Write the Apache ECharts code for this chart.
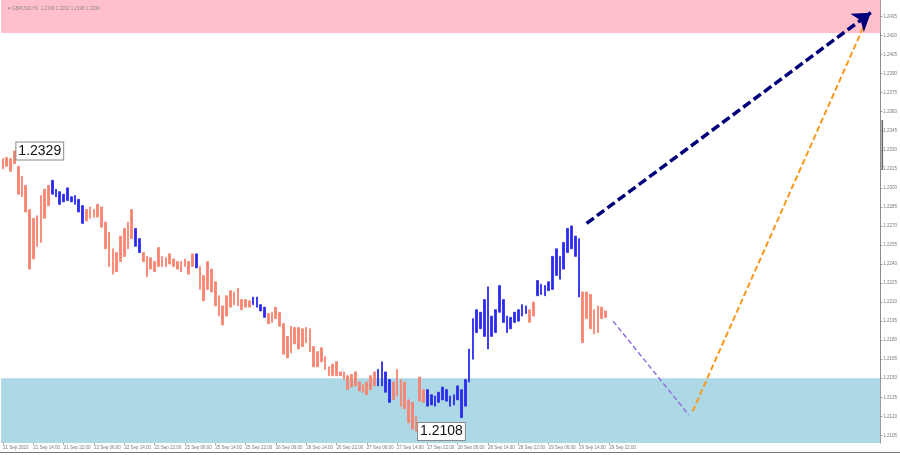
<!DOCTYPE html>
<html>
<head>
<meta charset="utf-8">
<script src="https://cdn.jsdelivr.net/npm/echarts@6/dist/echarts.min.js"></script>
<style>html,body{margin:0;padding:0;background:#fff;}#c{width:900px;height:455px;}</style>
</head>
<body>
<div id="c"></div>
<script>
// ---- data ----
const symbolTitle = '\u25BE GBPUSD,H1  1.2199 1.2202 1.2198 1.2200';
const xTickLabels = ['21 Sep 2023','21 Sep 14:00','21 Sep 22:00','22 Sep 06:00','22 Sep 14:00','22 Sep 22:00',
  '25 Sep 06:00','25 Sep 14:00','25 Sep 22:00','26 Sep 06:00','26 Sep 14:00','26 Sep 22:00',
  '27 Sep 06:00','27 Sep 14:00','27 Sep 22:00','28 Sep 06:00','28 Sep 14:00','28 Sep 22:00',
  '29 Sep 06:00','29 Sep 14:00','29 Sep 22:00'];
const hoursPerTick = 8;
const totalSlots = 232;
const yTickValues = [1.2105,1.2120,1.2135,1.2150,1.2165,1.2180,1.2195,1.2210,1.2225,1.2240,1.2255,1.2270,
  1.2285,1.2300,1.2315,1.2330,1.2345,1.2360,1.2375,1.2390,1.2405,1.2420,1.2435];

const barHigh = [
1.2323,1.2324,1.2323,1.2329,1.2317,1.2309,1.2302,1.2283,1.2276,1.2278,
1.2294,1.2299,1.2302,1.2306,1.2299,1.2297,1.2295,1.2300,1.2293,1.2294,
1.2291,1.2286,1.2283,1.2285,1.2283,1.2287,1.2285,1.2273,1.2265,1.2252,
1.2249,1.2262,1.2268,1.2273,1.2283,1.2268,1.2260,1.2249,1.2246,1.2245,
1.2242,1.2253,1.2246,1.2245,1.2248,1.2244,1.2242,1.2242,1.2244,1.2242,
1.2248,1.2248,1.2238,1.2231,1.2242,1.2236,1.2226,1.2215,1.2207,1.2215,
1.2219,1.2218,1.2221,1.2212,1.2212,1.2211,1.2214,1.2214,1.2208,1.2206,
1.2201,1.2202,1.2206,1.2202,1.2193,1.2183,1.2191,1.2190,1.2190,1.2189,
1.2190,1.2189,1.2175,1.2171,1.2174,1.2167,1.2159,1.2161,1.2163,1.2155,
1.2155,1.2152,1.2153,1.2155,1.2147,1.2145,1.2147,1.2152,1.2155,1.2157,
1.2163,1.2155,1.2149,1.2147,1.2157,1.2149,1.2147,1.2133,1.2131,1.2120,
1.2151,1.2141,1.2141,1.2137,1.2136,1.2139,1.2143,1.2141,1.2136,1.2137,
1.2144,1.2141,1.2149,1.2173,1.2197,1.2204,1.2202,1.2212,1.2222,1.2199,
1.2204,1.2223,1.2212,1.2199,1.2198,1.2202,1.2204,1.2208,1.2207,1.2204,
1.2210,1.2227,1.2224,1.2223,1.2226,1.2246,1.2252,1.2246,1.2257,1.2268,
1.2270,1.2262,1.2260,1.2218,1.2218,1.2216,1.2204,1.2207,1.2206,1.2203];
const barLow = [
1.2315,1.2317,1.2313,1.2319,1.2295,1.2293,1.2281,1.2236,1.2244,1.2254,
1.2257,1.2276,1.2286,1.2295,1.2293,1.2287,1.2289,1.2290,1.2289,1.2287,
1.2281,1.2272,1.2274,1.2276,1.2277,1.2277,1.2269,1.2252,1.2238,1.2232,
1.2234,1.2242,1.2246,1.2252,1.2260,1.2254,1.2249,1.2242,1.2230,1.2236,
1.2234,1.2238,1.2238,1.2238,1.2240,1.2238,1.2236,1.2234,1.2238,1.2232,
1.2238,1.2237,1.2220,1.2211,1.2220,1.2218,1.2207,1.2199,1.2192,1.2199,
1.2206,1.2208,1.2207,1.2204,1.2206,1.2206,1.2208,1.2206,1.2203,1.2198,
1.2193,1.2194,1.2197,1.2191,1.2169,1.2166,1.2170,1.2177,1.2173,1.2175,
1.2178,1.2171,1.2159,1.2159,1.2163,1.2157,1.2152,1.2152,1.2152,1.2152,
1.2149,1.2141,1.2143,1.2144,1.2140,1.2139,1.2137,1.2141,1.2144,1.2144,
1.2144,1.2139,1.2131,1.2133,1.2136,1.2128,1.2126,1.2115,1.2110,1.2108,
1.2132,1.2131,1.2128,1.2129,1.2128,1.2131,1.2133,1.2132,1.2128,1.2129,
1.2133,1.2119,1.2128,1.2147,1.2165,1.2186,1.2189,1.2183,1.2173,1.2183,
1.2186,1.2202,1.2194,1.2186,1.2189,1.2194,1.2195,1.2199,1.2201,1.2194,
1.2199,1.2215,1.2216,1.2215,1.2219,1.2220,1.2231,1.2228,1.2236,1.2249,
1.2252,1.2246,1.2214,1.2178,1.2197,1.2189,1.2185,1.2186,1.2197,1.2198];
// bars belonging to rising (blue) waves, as [first, last] bar index
const blueWaves = [[13,21],[35,36],[51,51],[66,69],[99,102],[112,138],[141,152]];
const lastPrice = 1.2202;
const extremeIdx = [3, 109];
const extremeVal = [1.2329, 1.2108];
const resistanceZone = [1.2422, 1.2448];
const supportZone = [1.2099, 1.2150];
const forecastUp = [[154, 1.2272], [229, 1.2438]];
const forecastDown = [[161, 1.2195], [181, 1.2121]];
const forecastRise = [[182, 1.2124], [228, 1.2433]];

// ---- build ----
const SALMON = '#F8836F', BLUE = '#2A2AEE';
const categories = [];
for (let i = 0; i < totalSlots; i++) categories.push(String(i));
function isBlue(i) { return blueWaves.some(r => i >= r[0] && i <= r[1]); }
const candleData = barHigh.map((h, i) => {
  const c = isBlue(i) ? BLUE : SALMON;
  return { value: [barLow[i], h, barLow[i], h], itemStyle: { color: c, borderColor: c, color0: c, borderColor0: c } };
});
const tickShown = idx => idx % hoursPerTick === 0 && idx / hoursPerTick < xTickLabels.length;
const extremeLabel = {
  show: true, position: 'right', distance: 2,
  fontFamily: 'Liberation Sans', fontSize: 14, color: '#111',
  backgroundColor: '#fff', borderColor: '#8a8a8a', borderWidth: 1, padding: [2, 2, 1, 2]
};

const chart = echarts.init(document.getElementById('c'), null, { renderer: 'canvas' });
chart.setOption({
  animation: false,
  backgroundColor: '#fff',
  title: { text: symbolTitle, left: 3, top: 1, textStyle: { fontSize: 4.5, color: '#8a8a8a', fontWeight: 'normal', fontFamily: 'Liberation Sans' } },
  grid: { left: 0, right: 18, top: 0, bottom: 12 },
  xAxis: {
    type: 'category', data: categories, boundaryGap: true,
    axisLine: { show: false },
    axisTick: { show: true, interval: tickShown, alignWithLabel: true, length: 2, lineStyle: { color: '#aaa' } },
    axisLabel: {
      interval: tickShown, align: 'left', margin: 2, fontSize: 4.5, color: '#7a7a7a', fontFamily: 'Liberation Sans',
      formatter: (v, idx) => xTickLabels[idx / hoursPerTick] || ''
    },
    splitLine: { show: false }
  },
  yAxis: {
    type: 'value', position: 'right', min: supportZone[0], max: resistanceZone[1], scale: true,
    axisLine: { show: true, lineStyle: { color: '#8c8c8c', width: 1 } },
    axisTick: { show: true, length: 2, customValues: yTickValues, lineStyle: { color: '#8c8c8c' } },
    axisLabel: { customValues: yTickValues, formatter: v => v.toFixed(4), fontSize: 4.5, color: '#7a7a7a', margin: 3, fontFamily: 'Liberation Sans' },
    splitLine: { show: false }
  },
  series: [
    {
      type: 'line', data: [], z: 1, silent: true,
      markArea: {
        silent: true,
        itemStyle: { borderWidth: 0 },
        data: [
          [{ yAxis: resistanceZone[0], itemStyle: { color: '#FFC0CB', borderWidth: 0 } }, { yAxis: resistanceZone[1] }],
          [{ yAxis: supportZone[0], itemStyle: { color: '#ADD8E6', borderWidth: 0 } }, { yAxis: supportZone[1] }]
        ]
      }
    },
    {
      type: 'candlestick', z: 3, barWidth: 2.2, data: candleData,
      itemStyle: { borderWidth: 0.8 },
      markPoint: {
        symbol: 'circle', symbolSize: 0, silent: true,
        data: extremeIdx.map((ix, k) => ({
          coord: [ix, extremeVal[k]],
          label: Object.assign({}, extremeLabel, { formatter: extremeVal[k].toFixed(4) })
        }))
      },
      markLine: {
        symbol: 'none', silent: true, lineStyle: { opacity: 0 },
        data: [{ yAxis: lastPrice }],
        label: { position: 'end', distance: 1, formatter: lastPrice.toFixed(4), fontSize: 4.5, color: '#fff', backgroundColor: '#333', padding: [1, 1], fontFamily: 'Liberation Sans' }
      }
    },
    {
      type: 'line', z: 4, data: forecastDown, symbol: 'none', silent: true,
      lineStyle: { color: '#9370DB', width: 1.5, type: [5, 3] }
    },
    {
      type: 'line', z: 4, data: forecastRise, symbol: 'none', silent: true,
      lineStyle: { color: '#F7991C', width: 2, type: [6, 3] }
    },
    {
      type: 'line', z: 5, data: [], silent: true,
      markLine: {
        silent: true, symbol: ['none', 'arrow'], symbolSize: 17,
        label: { show: false },
        lineStyle: { color: '#00007A', width: 3.5, type: [9, 4] },
        data: [[{ coord: forecastUp[0] }, { coord: forecastUp[1] }]]
      }
    }
  ],
  graphic: [
    { type: 'rect', left: 881.5, top: 120, shape: { width: 1.6, height: 50 }, style: { fill: '#666' }, silent: true },
    { type: 'line', shape: { x1: 0, y1: 452.5, x2: 900, y2: 452.5 }, style: { stroke: '#777', lineWidth: 1 }, silent: true }
  ]
});
</script>
</body>
</html>
